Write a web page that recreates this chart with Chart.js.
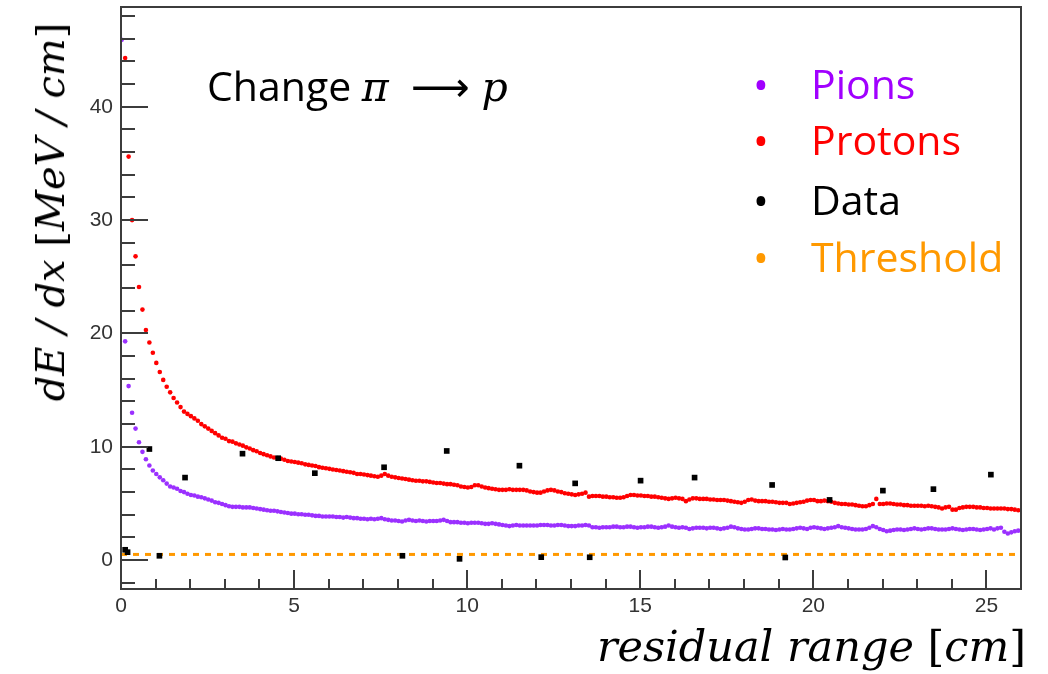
<!DOCTYPE html>
<html>
<head>
<meta charset="utf-8">
<script src="https://cdn.jsdelivr.net/npm/chart.js@4/dist/chart.umd.min.js"></script>
<style>
  html, body { margin: 0; padding: 0; background: #fff; }
  #wrap { position: relative; width: 1048px; height: 674px; overflow: hidden; }
  #chart { position: absolute; left: 0; top: 0; }
  .txt { position: absolute; white-space: nowrap; line-height: 1; }
  .sans { font-family: "Open Sans", "Lato", sans-serif; }
  .math { font-family: "DejaVu Serif", serif; font-style: italic; }
  .up { font-style: normal; }
</style>
</head>
<body>
<div id="wrap">
  <canvas id="chart" width="1048" height="674"></canvas>
  <div class="txt sans" style="left:207px; top:65px; font-size:41px;">Change <span class="math">π</span><span style="display:inline-block;width:22px;"></span><span style="font-family:'DejaVu Sans';font-size:41px;">⟶</span><span style="display:inline-block;width:12px;"></span><span class="math">p</span></div>
  <div id="legend"></div>
  <div class="txt math" style="left:50px; top:212px; font-size:40px; transform:translate(-50%,-50%) rotate(-90deg);">dE / dx <span class="up">[</span>MeV / cm<span class="up">]</span></div>
  <div class="txt math" style="right:22px; top:625px; font-size:43px;">residual range <span class="up">[</span>cm<span class="up">]</span></div>
</div>
<script>
  "use strict";
  // residual range bins for the two simulated curves
  var rangeStart = 0.02;
  var rangeStep = 0.1;

  var pionValues = [
    45.9, 19.3, 15.35, 13.0, 11.6, 10.4, 9.55, 8.9, 8.35, 7.9,
    7.6, 7.3, 7.05, 6.75, 6.5, 6.4, 6.3, 6.1, 6.0, 5.85,
    5.75, 5.7, 5.6, 5.55, 5.45, 5.35, 5.25, 5.1, 5.05, 4.95,
    4.85, 4.75, 4.7, 4.7, 4.7, 4.65, 4.65, 4.65, 4.6, 4.55,
    4.5, 4.45, 4.4, 4.35, 4.35, 4.3, 4.25, 4.2, 4.15, 4.1,
    4.1, 4.05, 4.05, 4.0, 4.0, 3.95, 3.9, 3.9, 3.85, 3.85,
    3.85, 3.85, 3.8, 3.8, 3.75, 3.8, 3.75, 3.7, 3.7, 3.65,
    3.65, 3.6, 3.65, 3.6, 3.65, 3.7, 3.6, 3.55, 3.5, 3.5,
    3.45, 3.4, 3.5, 3.55, 3.5, 3.45, 3.5, 3.45, 3.4, 3.45,
    3.45, 3.45, 3.5, 3.55, 3.45, 3.35, 3.35, 3.35, 3.3, 3.3,
    3.25, 3.3, 3.3, 3.3, 3.25, 3.2, 3.2, 3.25, 3.2, 3.15,
    3.1, 3.05, 3.0, 3.05, 3.1, 3.05, 3.05, 3.05, 3.05, 3.05,
    3.05, 3.1, 3.1, 3.1, 3.05, 3.05, 3.1, 3.1, 3.05, 3.0,
    3.0, 3.0, 3.05, 3.05, 3.1, 3.05, 2.9, 2.9, 2.85, 2.9,
    2.9, 2.9, 2.95, 2.95, 2.9, 2.9, 2.95, 2.95, 2.9, 2.85,
    2.9, 2.9, 2.95, 2.95, 2.9, 2.85, 2.9, 2.95, 3.05, 2.95,
    2.9, 2.85, 2.9, 2.85, 2.75, 2.8, 2.85, 2.85, 2.85, 2.8,
    2.85, 2.85, 2.8, 2.75, 2.8, 2.85, 2.95, 2.9, 2.8, 2.75,
    2.7, 2.7, 2.75, 2.8, 2.8, 2.75, 2.75, 2.7, 2.7, 2.65,
    2.7, 2.75, 2.7, 2.7, 2.75, 2.8, 2.85, 2.8, 2.75, 2.85,
    2.9, 2.85, 2.8, 2.75, 2.8, 2.85, 2.9, 3.0, 2.9, 2.85,
    2.8, 2.75, 2.7, 2.7, 2.7, 2.75, 2.85, 3.0, 2.9, 2.75,
    2.65, 2.55, 2.6, 2.65, 2.7, 2.7, 2.65, 2.7, 2.75, 2.8,
    2.75, 2.7, 2.75, 2.8, 2.8, 2.75, 2.7, 2.7, 2.7, 2.75,
    2.8, 2.75, 2.7, 2.65, 2.7, 2.75, 2.75, 2.7, 2.65, 2.7,
    2.75, 2.8, 2.7, 2.8, 2.85, 2.5, 2.35, 2.45, 2.55, 2.6
  ];

  var protonValues = [
    null, 44.3, 35.6, 30.0, 26.8, 24.1, 22.1, 20.3, 19.2, 18.3,
    17.4, 16.6, 15.9, 15.3, 14.8, 14.3, 13.9, 13.5, 13.1, 12.9,
    12.7, 12.5, 12.3, 12.0, 11.8, 11.6, 11.4, 11.2, 11.0, 10.8,
    10.7, 10.5, 10.45, 10.3, 10.2, 10.1, 9.95, 9.85, 9.7, 9.6,
    9.45, 9.35, 9.25, 9.15, 9.05, 9.0, 8.95, 8.85, 8.75, 8.7,
    8.65, 8.6, 8.55, 8.45, 8.4, 8.35, 8.3, 8.2, 8.15, 8.1,
    8.05, 8.0, 7.95, 7.9, 7.85, 7.8, 7.75, 7.7, 7.6, 7.6,
    7.55, 7.5, 7.45, 7.4, 7.35, 7.45, 7.6, 7.45, 7.35, 7.3,
    7.25, 7.2, 7.15, 7.1, 7.05, 7.0, 7.0, 6.95, 6.95, 6.9,
    6.85, 6.8, 6.8, 6.75, 6.7, 6.7, 6.65, 6.6, 6.5, 6.45,
    6.4, 6.45, 6.6, 6.6, 6.5, 6.4, 6.35, 6.3, 6.25, 6.2,
    6.2, 6.2, 6.25, 6.2, 6.2, 6.2, 6.2, 6.15, 6.05, 6.0,
    5.95, 5.95, 6.05, 6.15, 6.2, 6.15, 6.05, 6.0, 5.9, 5.85,
    5.8, 5.75, 5.8, 5.85, 5.95, 5.6, 5.65, 5.65, 5.65, 5.6,
    5.6, 5.55, 5.55, 5.5, 5.5, 5.55, 5.65, 5.75, 5.75, 5.7,
    5.7, 5.65, 5.65, 5.6, 5.6, 5.55, 5.5, 5.45, 5.4, 5.45,
    5.5, 5.45, 5.4, 5.2, 5.35, 5.45, 5.45, 5.4, 5.4, 5.4,
    5.35, 5.35, 5.3, 5.3, 5.3, 5.25, 5.2, 5.15, 5.1, 5.05,
    5.15, 5.3, 5.35, 5.25, 5.2, 5.2, 5.2, 5.15, 5.15, 5.1,
    5.05, 5.05, 5.05, 4.95, 5.0, 5.05, 5.1, 5.15, 5.25, 5.3,
    5.3, 5.2, 5.2, 5.25, 5.2, 5.15, 5.05, 5.0, 4.95, 4.95,
    4.9, 4.9, 4.85, 4.8, 4.75, 4.75, 4.85, 4.95, 5.4, 4.95,
    4.95, 5.0, 5.0, 4.95, 4.9, 4.9, 4.85, 4.85, 4.8, 4.8,
    4.8, 4.8, 4.75, 4.8, 4.75, 4.7, 4.65, 4.55, 4.65, 4.7,
    4.45, 4.45, 4.6, 4.65, 4.7, 4.7, 4.7, 4.65, 4.65, 4.6,
    4.6, 4.55, 4.55, 4.55, 4.55, 4.55, 4.5, 4.5, 4.45, 4.4
  ];

  // measured track
  var dataRange = [0.12, 0.19, 0.82, 1.11, 1.85, 3.51, 4.54, 5.60, 7.60, 8.13, 9.41, 9.78,
                   11.51, 12.14, 13.12, 13.54, 15.01, 16.57, 18.81, 19.19, 20.47, 22.01, 23.47, 25.13];
  var dataDedx = [0.91, 0.70, 9.8, 0.38, 7.28, 9.39, 8.99, 7.67, 8.19, 0.38, 9.63, 0.11,
                  8.33, 0.26, 6.77, 0.25, 7.01, 7.28, 6.63, 0.23, 5.31, 6.13, 6.26, 7.54];

  var thresholdValue = 0.5;

  var xTicks = [0, 5, 10, 15, 20, 25];
  var yTicks = [0, 10, 20, 30, 40];

  var legendLabels = ['Pions', 'Protons', 'Data', 'Threshold'];
  var legendColors = ['#a100ff', '#ff0000', '#000000', '#ff9900'];

  var pionPoints = [], protonPoints = [], dataPoints = [];
  for (var i = 0; i < pionValues.length; i++) {
    var r = +(rangeStart + i * rangeStep).toFixed(2);
    pionPoints.push({ x: r, y: pionValues[i] });
    protonPoints.push({ x: r, y: protonValues[i] });
  }
  for (var j = 0; j < dataRange.length; j++) {
    dataPoints.push({ x: dataRange[j], y: dataDedx[j] });
  }

  // legend text (pasted-on labels, not the chart.js legend)
  var legendTops = [63, 119, 179, 236];
  var lg = document.getElementById('legend');
  legendLabels.forEach(function (name, k) {
    var b = document.createElement('div');
    b.className = 'txt sans';
    b.style.cssText = 'left:753px;top:' + legendTops[k] + 'px;font-size:42px;color:' + legendColors[k];
    b.textContent = '•';
    lg.appendChild(b);
    var t = document.createElement('div');
    t.className = 'txt sans';
    t.style.cssText = 'left:811px;top:' + legendTops[k] + 'px;font-size:41px;color:' + legendColors[k];
    t.textContent = name;
    lg.appendChild(t);
  });

  // ROOT style frame with inward ticks
  var frameTicks = {
    id: 'frameTicks',
    afterDatasetsDraw: function (chart) {
      var ctx = chart.ctx, a = chart.chartArea, xs = chart.scales.x, ys = chart.scales.y;
      ctx.save();
      ctx.strokeStyle = '#3c3c3c';
      ctx.lineWidth = 2;
      ctx.strokeRect(a.left, a.top, a.right - a.left, a.bottom - a.top);
      ctx.beginPath();
      for (var v = -2; v <= ys.max; v += 2) {
        var py = Math.round(ys.getPixelForValue(v));
        var len = (v % 10 === 0) ? 27 : 14;
        ctx.moveTo(a.left, py); ctx.lineTo(a.left + len, py);
      }
      for (var u = 0; u <= xs.max; u += 1) {
        var px = Math.round(xs.getPixelForValue(u));
        var l2 = (u % 5 === 0) ? 19 : 10;
        ctx.moveTo(px, a.bottom); ctx.lineTo(px, a.bottom - l2);
      }
      ctx.stroke();
      ctx.restore();
    }
  };

  var ctx1 = document.getElementById('chart');
  new Chart(ctx1, {
    type: 'scatter',
    data: {
      datasets: [{
        label: 'Data',
        data: dataPoints,
        pointStyle: 'rect',
        pointRadius: 4,
        borderWidth: 0,
        backgroundColor: '#000000',
        order: 0
      },
      {
        label: 'Pions',
        data: pionPoints,
        pointStyle: 'circle',
        pointRadius: 2.3,
        borderWidth: 0,
        backgroundColor: '#9b30ff',
        order: 2
      },
      {
        label: 'Protons',
        data: protonPoints,
        pointStyle: 'circle',
        pointRadius: 2.3,
        borderWidth: 0,
        backgroundColor: '#ff0000',
        order: 1
      },
      {
        label: 'Threshold',
        type: 'line',
        data: [{ x: 0, y: thresholdValue }, { x: 26, y: thresholdValue }],
        borderColor: '#ff9900',
        borderWidth: 3,
        borderDash: [6, 6],
        pointRadius: 0,
        fill: false,
        order: 3
      }]
    },
    options: {
      responsive: false,
      animation: false,
      devicePixelRatio: 1,
      layout: { padding: { left: 0, top: 7, right: 27, bottom: 0 } },
      plugins: {
        legend: { display: false },
        tooltip: { enabled: false }
      },
      scales: {
        x: {
          type: 'linear',
          min: 0,
          max: 26,
          afterFit: function (s) { s.height = 85; s.paddingLeft = 0; s.paddingRight = 0; },
          afterBuildTicks: function (s) { s.ticks = xTicks.map(function (v) { return { value: v }; }); },
          grid: { display: false, drawTicks: false },
          border: { display: false },
          ticks: { padding: 5, color: '#333', font: { family: 'Liberation Sans', size: 21 }, maxRotation: 0 }
        },
        y: {
          type: 'linear',
          min: -2.55,
          max: 48.8,
          afterFit: function (s) { s.width = 121; s.paddingTop = 0; s.paddingBottom = 0; },
          afterBuildTicks: function (s) { s.ticks = yTicks.map(function (v) { return { value: v }; }); },
          grid: { display: false, drawTicks: false },
          border: { display: false },
          ticks: { padding: 8, color: '#333', font: { family: 'Liberation Sans', size: 21 } }
        }
      }
    },
    plugins: [frameTicks]
  });
</script>
</body>
</html>
